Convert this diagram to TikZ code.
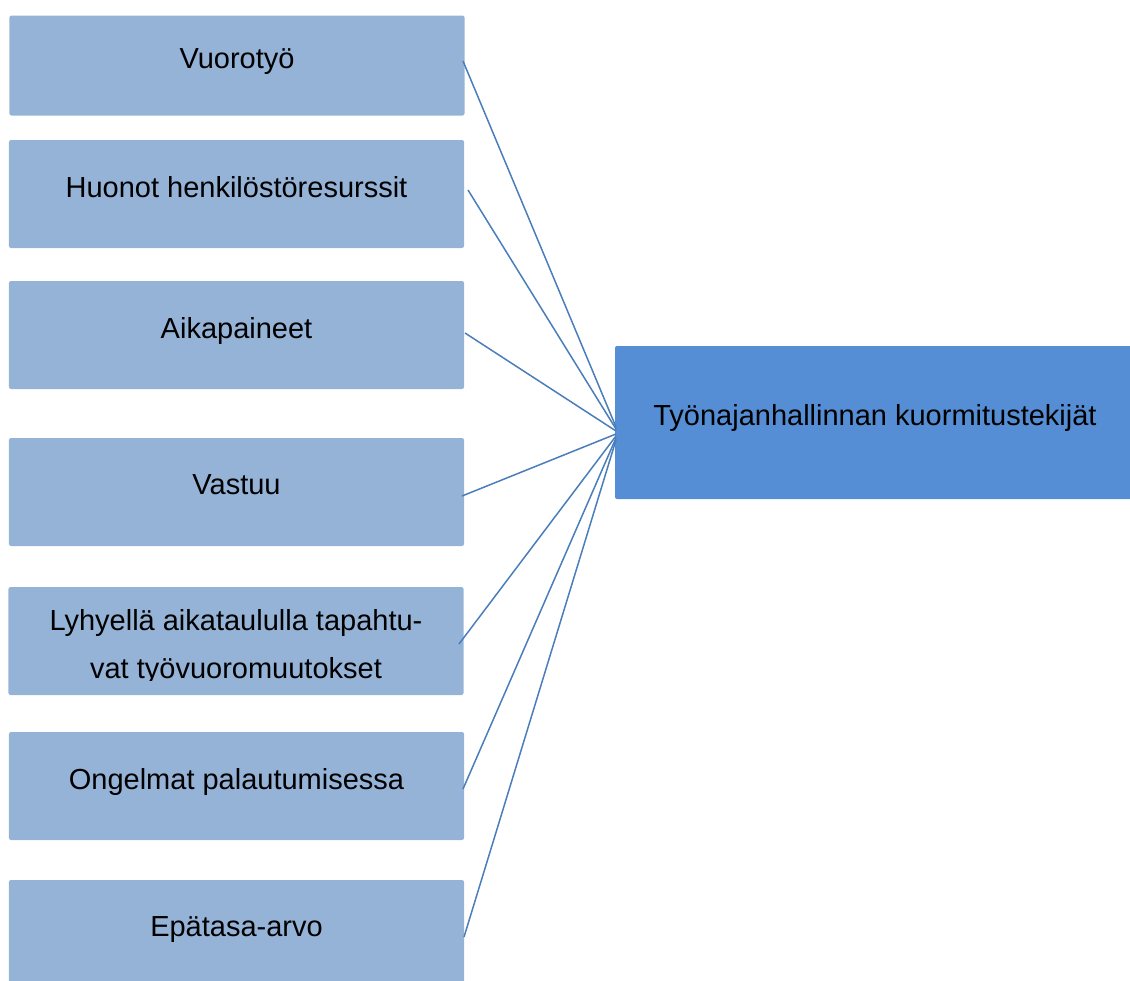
\documentclass[tikz,border=0pt]{standalone}
\usepackage{fontspec}
\setmainfont{Liberation Sans}
\begin{document}
\begin{tikzpicture}[x=1bp,y=-1bp,
  factor/.style={fill=factorfill, draw=none, rounded corners=2bp, inner sep=0pt,
    minimum width=455bp, minimum height=108bp},
  mainbox/.style={fill=mainfill, draw=none, rounded corners=2bp, inner sep=0pt,
    minimum width=517bp, minimum height=153bp},
  txt/.style={anchor=base, inner sep=0pt, font=\fontsize{29bp}{48bp}\selectfont, text=black},
  link/.style={draw=linkcol, line width=1.5bp}]
\definecolor{factorfill}{HTML}{95B3D7}
\definecolor{mainfill}{HTML}{558ED5}
\definecolor{linkcol}{HTML}{4A7EBB}
\useasboundingbox (0,0) rectangle (1130,981);
\clip (0,0) rectangle (1130,981);

% factor boxes
\node[factor, minimum height=100bp] (b1) at (237,65.5) {};
\node[factor] (b2) at (236.5,194) {};
\node[factor] (b3) at (236.5,335) {};
\node[factor] (b4) at (236.5,492) {};
\node[factor] (b5) at (236,641) {};
\node[factor] (b6) at (236.5,786) {};
\node[factor] (b7) at (236.5,934) {};
% main box
\node[mainbox, minimum width=520bp] (m) at (875,422.5) {};

% labels
\node[txt] (t1) at (237,68) {Vuorotyö};
\node[txt] (t2) at (236.5,197) {Huonot henkilöstöresurssit};
\node[txt] (t3) at (236.5,338) {Aikapaineet};
\node[txt] (t4) at (236.5,494) {Vastuu};
\begin{scope}
  % the second line is cut off just under its baseline
  \clip (9,587) rectangle (464,680);
  \node[txt, align=center] (t5) at (236,678) {Lyhyellä aikataululla tapahtu-\\vat työvuoromuutokset};
\end{scope}
\node[txt] (t6) at (236.5,789) {Ongelmat palautumisessa};
\node[txt] (t7) at (236.5,936) {Epätasa-arvo};
\node[txt] (tm) at (875,425) {Työnajanhallinnan kuormitustekijät};

% connector ends
\coordinate (s1) at (463,61);
\coordinate (s2) at (468,190);
\coordinate (s3) at (465,333);
\coordinate (s4) at (462,496);
\coordinate (s5) at (459,644);
\coordinate (s6) at (463,789);
\coordinate (s7) at (464,937);
\coordinate (h1) at (616,427);
\coordinate (h2) at (616,429);
\coordinate (h3) at (616,431);
\coordinate (h4) at (616,434);
\coordinate (h5) at (616,436);
\coordinate (h6) at (616,438);
\coordinate (h7) at (616,440);

\draw[link] (s1) -- (h1);
\draw[link] (s2) -- (h2);
\draw[link] (s3) -- (h3);
\draw[link] (s4) -- (h4);
\draw[link] (s5) -- (h5);
\draw[link] (s6) -- (h6);
\draw[link] (s7) -- (h7);
\end{tikzpicture}
\end{document}
